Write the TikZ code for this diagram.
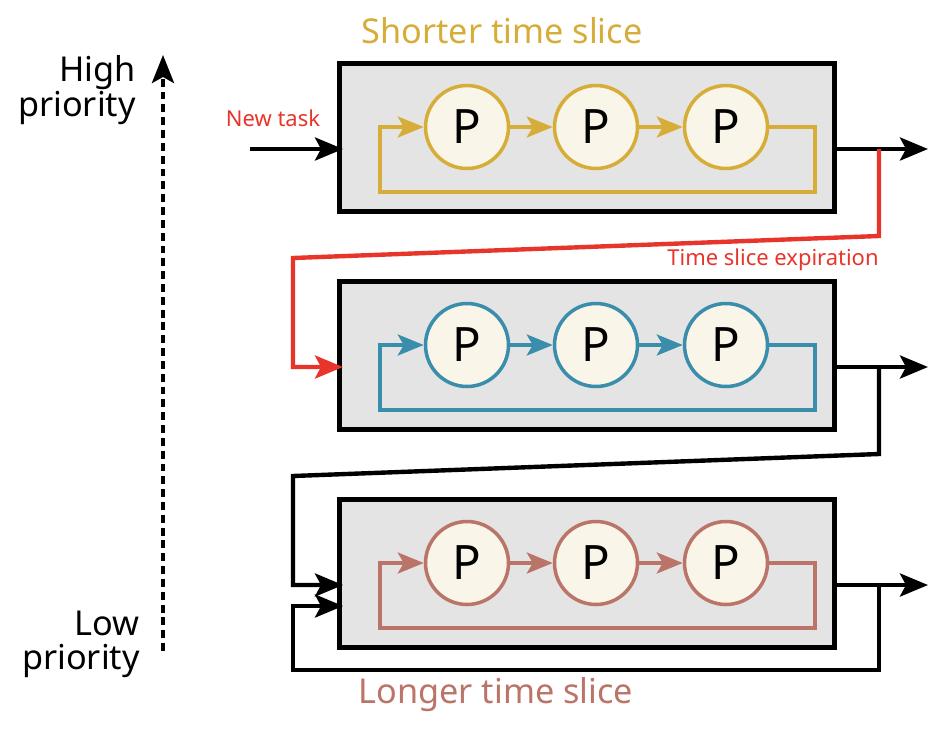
\documentclass[tikz,border=0pt]{standalone}
\usepackage{fontspec}
\setmainfont{Noto Sans}
\usetikzlibrary{arrows.meta,positioning}
\definecolor{slicegold}{HTML}{D6AD38}
\definecolor{sliceblue}{HTML}{3A8DAB}
\definecolor{slicebrown}{HTML}{BA7468}
\definecolor{expirered}{HTML}{E8352B}
\definecolor{procfill}{HTML}{F9F5E8}
\definecolor{queuefill}{HTML}{E4E4E4}

\begin{document}
\begin{tikzpicture}[x=0.02cm, y=-0.02cm, >={Stealth[length=5.6mm,width=4.6mm,inset=1.2mm]},
  queuebox/.style={draw, line width=2.6pt, fill=queuefill, rectangle, minimum width=9.9cm, minimum height=2.95cm},
  proc/.style={circle, draw=#1, line width=2pt, fill=procfill, minimum size=1.66cm, inner sep=0pt, font=\fontsize{27}{27}\selectfont},
  loopline/.style={draw=#1, line width=2pt, -{Stealth[length=5.2mm,width=4.2mm,inset=1.2mm]}},
  flowline/.style={line width=2.5pt, ->},
  bigtitle/.style={font=\fontsize{19.5}{19.5}\selectfont},
  smalllabel/.style={font=\fontsize{12.5}{12.5}\selectfont, text=expirered}]
\useasboundingbox (0,0) rectangle (950,748);

% the three queues
\foreach \q/\yy/\col in {1/0/slicegold, 2/218/sliceblue, 3/436/slicebrown}{
  \node[queuebox] (box\q) at (587,{137.5+\yy}) {};
  \node[proc=\col] (p\q-a) at (467,{127+\yy}) {P};
  \node[proc=\col] (p\q-b) at (596,{127+\yy}) {P};
  \node[proc=\col] (p\q-c) at (726,{127+\yy}) {P};
  \draw[loopline=\col] (p\q-a) -- (p\q-b);
  \draw[loopline=\col] (p\q-b) -- (p\q-c);
  \draw[loopline=\col] (p\q-c.east) -| (815,{192+\yy}) -| (380,{127+\yy}) -- (p\q-a.west);
  \coordinate (out\q) at (837,{149+\yy});
  \coordinate (end\q) at (928,{149+\yy});
  \coordinate (tap\q) at (879,{149+\yy});
  \draw[flowline] (out\q) -- (end\q);
}

\coordinate (in1) at (343,149);
\coordinate (in2) at (343,367);
\coordinate (in3a) at (343,585);
\coordinate (in3b) at (343,606);
\coordinate (newtask) at (250,149);

% feedback between levels
\draw[flowline] (newtask) -- (in1);
\draw[flowline, color=expirered] (tap1) -- (879,236) -- (293,258) -- (293,367) -- (in2);
\draw[flowline] (tap2) -- (879,454) -- (293,476) -- (293,585) -- (in3a);
\draw[flowline] (tap3) -- (879,670) -- (293,670) -- (293,606) -- (in3b);

% labels
\node[smalllabel] (newlbl) at (273,118) {New task};
\node[smalllabel] (explbl) at (773,260) {Time slice expiration};
\node[bigtitle, text=slicegold] (short) at (502,31) {Shorter time slice};
\node[bigtitle, text=slicebrown] (long) at (496,695) {Longer time slice};

% priority axis
\coordinate (lowend) at (163,651);
\coordinate (highend) at (163,55);
\draw[line width=2.2pt, dash pattern=on 4.5pt off 2.8pt, -{Stealth[length=5.6mm,width=4.4mm,inset=1.2mm]}] (lowend) -- (highend);
\node[bigtitle, align=right, anchor=east] (high) at (142,90) {High\\priority};
\node[bigtitle, align=right, anchor=east] (low) at (146,644) {Low\\priority};
\end{tikzpicture}
\end{document}
